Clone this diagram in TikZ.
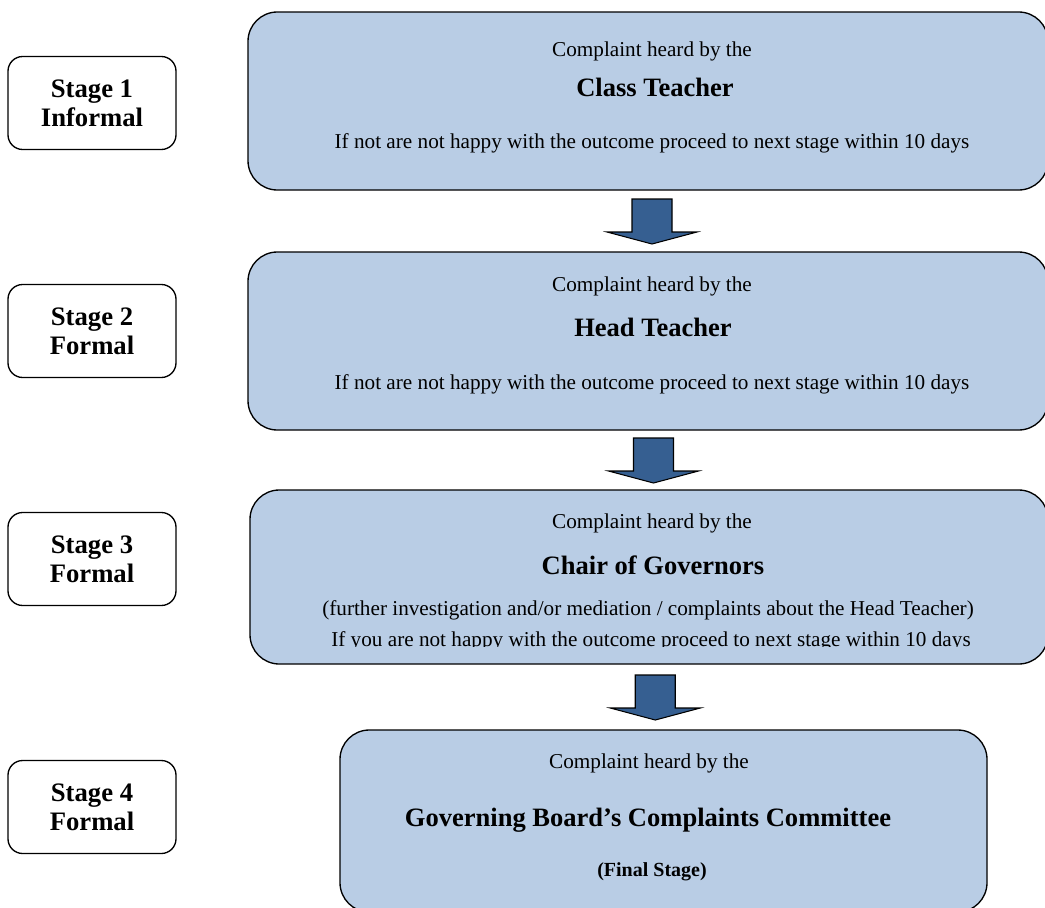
\documentclass[tikz,border=0pt]{standalone}
\usepackage{fontspec}
\setmainfont{Liberation Serif}
\usetikzlibrary{calc}

\definecolor{boxblue}{RGB}{185,205,229}
\definecolor{arrowblue}{RGB}{54,95,145}

\begin{document}
\begin{tikzpicture}[x=0.75pt,y=-0.75pt,
	bigbox/.style={draw,line width=1pt,fill=boxblue,rounded corners=22pt},
	stagebox/.style={draw,line width=1pt,rounded corners=11pt,align=center,
		minimum width=126pt,minimum height=69.75pt,
		font=\fontsize{20}{21.75}\selectfont\bfseries},
	plain/.style={font=\fontsize{15.9}{19}\selectfont,text height=0.7em,text depth=0.2em,inner sep=0pt},
	heading/.style={font=\fontsize{19.9}{24}\selectfont\bfseries,text height=0.7em,text depth=0.2em,inner sep=0pt},
	blockarrow/.style={draw,line width=0.8pt,fill=arrowblue,line join=miter}]
\useasboundingbox (0,0) rectangle (1045,907);

% stages on the left
\foreach \n/\y/\kind in {1/103/Informal, 2/331/Formal, 3/559/Formal, 4/807/Formal}
	{
	\node[stagebox] (stage\n) at (92,\y) {Stage \n\\\kind};
	}

% the four hearing boxes
\node[bigbox,minimum width=600pt,minimum height=133.5pt] (box1) at (648,101) {};
\node[bigbox,minimum width=600pt,minimum height=133.5pt] (box2) at (648,341) {};
\node[bigbox,minimum width=598.5pt,minimum height=130.5pt] (box3) at (649,577) {};
\node[bigbox,minimum width=485.25pt,minimum height=136.5pt] (box4) at (663.5,821) {};

\node[plain] (by1) at (652,53) {Complaint heard by the};
\node[heading] (who1) at (655,93) {Class Teacher};
\node[plain] (next1) at (652,145) {If not are not happy with the outcome proceed to next stage within 10 days};

\node[plain] (by2) at (652,288) {Complaint heard by the};
\node[heading] (who2) at (653,333) {Head Teacher};
\node[plain] (next2) at (652,386) {If not are not happy with the outcome proceed to next stage within 10 days};

\node[plain] (by3) at (652,525) {Complaint heard by the};
\node[heading] (who3) at (653,571) {Chair of Governors};
\node[plain] (why3) at (648,612) {(further investigation and/or mediation / complaints about the Head Teacher)};
\begin{scope}
	\clip (250,620) rectangle (1045,646);
	\node[plain] (next3) at (651,643) {If you are not happy with the outcome proceed to next stage within 10 days};
\end{scope}

\node[plain] (by4) at (649,765) {Complaint heard by the};
\node[heading] (who4) at (648,823) {Governing Board’s Complaints Committee};
\node[plain,font=\fontsize{15}{18}\selectfont\bfseries] (final4) at (652,873) {(Final Stage)};

% arrows between the boxes
\foreach \a/\b/\dx in {1/2/4, 2/3/5, 3/4/-1}
	{
	\coordinate (arr\a) at ($(box\a.south)!0.5!(box\b.north)+(\dx,0)$);
	\draw[blockarrow] (arr\a) ++(-20,-22) -- ++(40,0) -- ++(0,33) -- ++(25,0)
		-- ++(-45,12) -- ++(-45,-12) -- ++(25,0) -- cycle;
	}
\end{tikzpicture}
\end{document}
